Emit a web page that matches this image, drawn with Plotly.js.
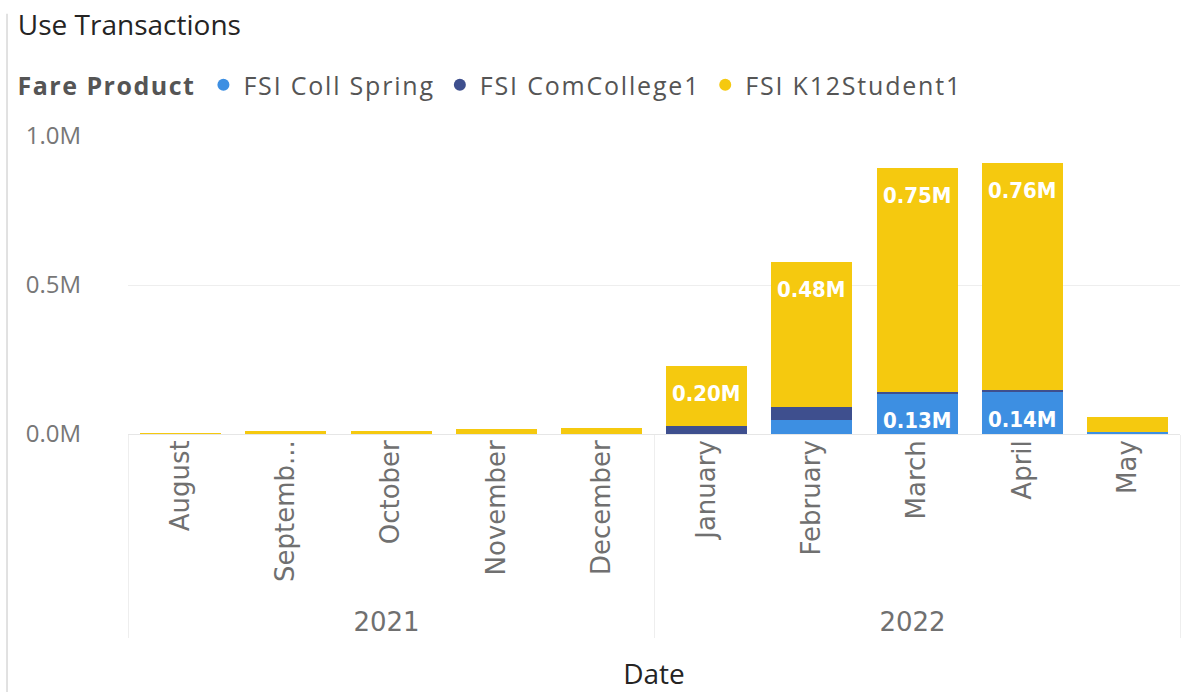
<!DOCTYPE html>
<html>
<head>
<meta charset="utf-8">
<script src="https://cdn.plot.ly/plotly-3.0.1.min.js"></script>
<style>
  html, body { margin: 0; padding: 0; background: #ffffff; }
  #chart { width: 1191px; height: 692px; }
  .legendtext { letter-spacing: 1.8px; }
  .legendtitletext { letter-spacing: 1.5px; }
</style>
</head>
<body>
<div id="chart"></div>
<script>
// ---- Data ----
const years  = ["2021","2021","2021","2021","2021","2022","2022","2022","2022","2022"];
const months = ["August","Septemb...","October","November","December","January","February","March","April","May"];

const collSpring  = [0, 0, 0, 0, 0, 0, 47000, 133000, 140000, 8000];
const comCollege  = [0, 0, 0, 0, 0, 28000, 44000, 7000, 6000, 0];
const k12Student  = [5000, 9000, 10000, 16000, 20000, 200000, 485000, 752000, 762000, 50000];

const collLabels = ["", "", "", "", "", "", "", "0.13M", "0.14M", ""];
const k12Labels  = ["", "", "", "", "", "0.20M", "0.48M", "0.75M", "0.76M", ""];

const seriesNames = ["FSI Coll Spring", "FSI ComCollege1", "FSI K12Student1"];
const colors = ["#3D8FE2", "#3E4F8E", "#F5C90F"];

const yTickVals = [0, 500000, 1000000];
const yTickText = ["0.0M", "0.5M", "1.0M"];

// ---- Styles ----
const baseFont = "Segoe UI, Open Sans, Noto Sans, sans-serif";
const tickFontFamily = "DejaVu Sans, Open Sans, sans-serif";
const labelFont = {family: "DejaVu Sans Condensed, DejaVu Sans, sans-serif", size: 22, color: "#ffffff", weight: "bold"};

function barTrace(name, vals, color) {
  return {
    type: "bar",
    name: name,
    x: [years, months],
    y: vals,
    marker: {color: color, line: {width: 0}},
    showlegend: false,
    hoverinfo: "x+y+name"
  };
}

function legendTrace(name, color) {
  return {
    type: "scatter",
    mode: "markers",
    name: name,
    x: [null],
    y: [null],
    marker: {symbol: "circle", size: 12, color: color},
    showlegend: true,
    hoverinfo: "skip"
  };
}

const data = [
  barTrace(seriesNames[0], collSpring, colors[0]),
  barTrace(seriesNames[1], comCollege, colors[1]),
  barTrace(seriesNames[2], k12Student, colors[2]),
  legendTrace(seriesNames[0], colors[0]),
  legendTrace(seriesNames[1], colors[1]),
  legendTrace(seriesNames[2], colors[2])
];

// Data labels placed from the data: K12 near top of its segment, Coll Spring centred in its segment
const annotations = [];
months.forEach(function (m, i) {
  if (k12Labels[i]) {
    annotations.push({
      x: i, y: collSpring[i] + comCollege[i] + k12Student[i],
      xref: "x", yref: "y",
      text: k12Labels[i], showarrow: false,
      yanchor: "middle", yshift: -27,
      font: labelFont
    });
  }
  if (collLabels[i]) {
    annotations.push({
      x: i, y: collSpring[i] / 2,
      xref: "x", yref: "y",
      text: collLabels[i], showarrow: false,
      yanchor: "middle", yshift: -6,
      font: labelFont
    });
  }
});

const layout = {
  width: 1191,
  height: 692,
  paper_bgcolor: "#ffffff",
  plot_bgcolor: "#ffffff",
  barmode: "stack",
  bargap: 0.23,
  margin: {l: 128, r: 11, t: 136, b: 258, pad: 0},
  font: {family: baseFont, color: "#666666"},
  title: {
    text: "Use Transactions",
    xref: "container", yref: "container",
    x: 0.015, xanchor: "left",
    y: 1 - 25/692, yanchor: "middle",
    font: {family: baseFont, size: 28, color: "#252423"}
  },
  legend: {
    orientation: "h",
    xref: "container", yref: "container",
    x: 0.013, xanchor: "left",
    y: 1 - 85/692, yanchor: "middle",
    font: {family: baseFont, size: 25, color: "#555555"},
    title: {text: "<b>Fare Product</b>", font: {family: baseFont, size: 25, color: "#555555"}, side: "left"},
    itemwidth: 30,
    traceorder: "normal",
    bgcolor: "rgba(0,0,0,0)"
  },
  xaxis: {
    type: "multicategory",
    tickangle: -90,
    tickfont: {family: tickFontFamily, size: 26, color: "#707070"},
    showgrid: false,
    showline: false,
    ticks: "",
    showdividers: true,
    dividercolor: "#eeeeee",
    dividerwidth: 1,
    title: {text: "Date", font: {family: baseFont, size: 28, color: "#252423"}, standoff: 28},
    fixedrange: true
  },
  yaxis: {
    range: [0, 1000000],
    tickvals: yTickVals,
    ticktext: yTickText,
    tickfont: {family: baseFont, size: 24, color: "#777777"},
    showgrid: true,
    gridcolor: "#eeeeee",
    gridwidth: 1,
    zeroline: true,
    zerolinecolor: "#e6e6e6",
    zerolinewidth: 1,
    showline: false,
    ticks: "",
    ticklabelstandoff: 46,
    fixedrange: true
  },
  annotations: annotations,
  shapes: [
    {type: "line", xref: "paper", yref: "paper",
     x0: -0.115, x1: -0.115, y0: -0.87, y1: 1.41,
     line: {color: "#d8d8d8", width: 1.5}}
  ]
};

Plotly.newPlot("chart", data, layout, {displayModeBar: false, staticPlot: true});
</script>
</body>
</html>
